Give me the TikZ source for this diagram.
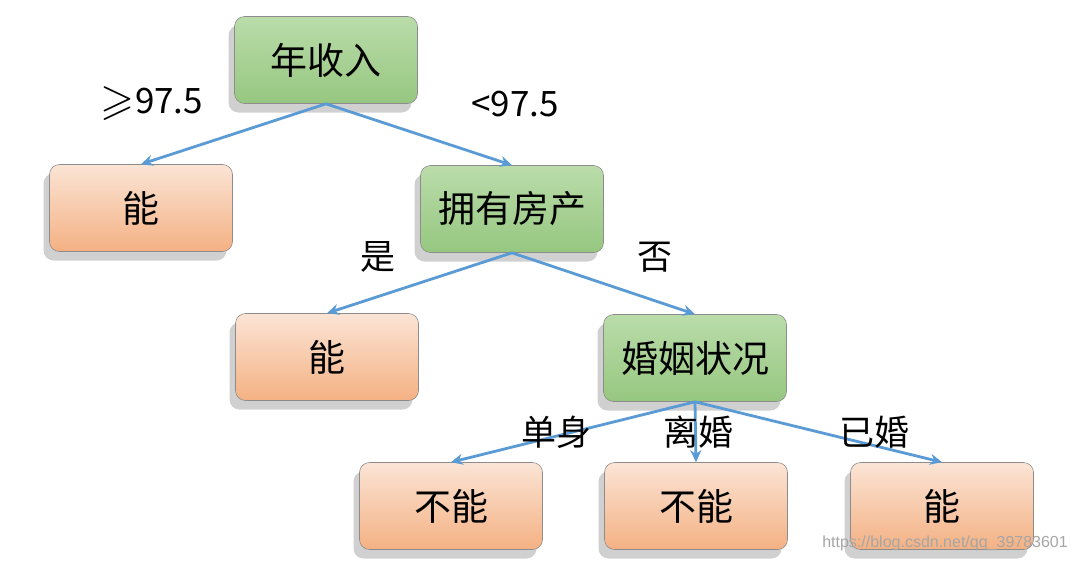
\documentclass[tikz,border=0pt]{standalone}
\usepackage{fontspec}
\usepackage{amssymb}
\newfontfamily\cjk{Noto Sans CJK SC}
\usetikzlibrary{arrows.meta,shadings}
\definecolor{edgeblue}{HTML}{5B9BD5}
\definecolor{gtop}{RGB}{186,220,170}
\definecolor{gbot}{RGB}{150,199,128}
\definecolor{otop}{RGB}{251,228,213}
\definecolor{obot}{RGB}{244,177,131}
\tikzset{
  box/.style={rounded corners=10pt, minimum width=183pt, minimum height=87pt,
    draw=black!45, line width=0.6pt, font=\cjk\fontsize{37}{37}\selectfont, text=black,
    preaction={fill=black!60, fill opacity=0.3, transform canvas={xshift=-6pt, yshift=-9pt}}},
  greenbox/.style={box, top color=gtop, bottom color=gbot},
  orangebox/.style={box, top color=otop, bottom color=obot},
  link/.style={draw=edgeblue, line width=2.8pt, -{Stealth[length=12pt,width=11pt]}},
  lbl/.style={font=\cjk\fontsize{35}{35}\selectfont, text=black, inner sep=0pt},
  wm/.style={font=\fontspec{Liberation Sans}\fontsize{16}{16}\selectfont, text=black!35, inner sep=0pt}
}
\begin{document}
\begin{tikzpicture}[x=1pt,y=-1pt]
\useasboundingbox[fill=white] (0,0) rectangle (1075,563);
\node[greenbox] (root) at (326,60) {年收入};
\node[orangebox] (l1) at (141,208) {能};
\node[greenbox] (fang) at (512,209) {拥有房产};
\node[orangebox] (l2) at (327,357) {能};
\node[greenbox] (hun) at (695,358) {婚姻状况};
\node[orangebox] (l3) at (451,506) {不能};
\node[orangebox] (l4) at (696,506) {不能};
\node[orangebox] (l5) at (942,506) {能};

\draw[link] (root.south) -- (l1.north);
\draw[link] (root.south) -- (fang.north);
\draw[link] (fang.south) -- (l2.north);
\draw[link] (fang.south) -- (hun.north);
\draw[link] (hun.south) -- (l3.north);
\draw[link] (hun.south) -- (l4.north);
\draw[link] (hun.south) -- (l5.north);

\node[lbl] (t1) at (152,104) {\raisebox{-1pt}{\scalebox{1.25}{$\geqslant$}}97.5};
\node[lbl] (t2) at (515,104) {<97.5};
\node[lbl] (t3) at (378,257) {是};
\node[lbl] (t4) at (655,257) {否};
\node[lbl] (t5) at (556,432) {单身};
\node[lbl] (t6) at (698,432) {离婚};
\node[lbl] (t7) at (874,432) {已婚};
\node[wm, anchor=east] (w) at (1068,543) {https://blog.csdn.net/qq\_39783601};
\end{tikzpicture}
\end{document}
